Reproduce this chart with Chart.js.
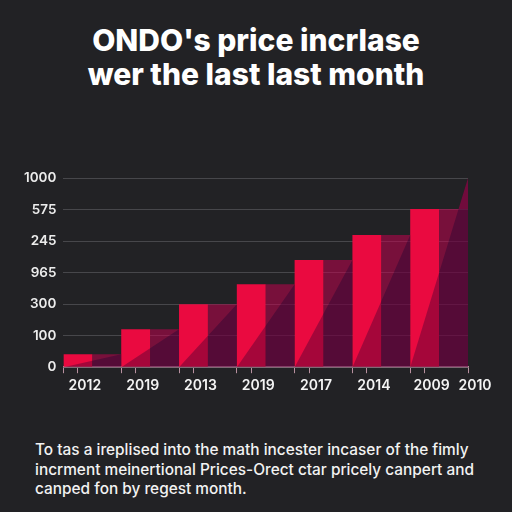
<!DOCTYPE html>
<html>
<head>
<meta charset="utf-8">
<script src="https://cdn.jsdelivr.net/npm/chart.js@4.4.1/dist/chart.umd.min.js"></script>
<style>
  html, body { margin: 0; padding: 0; background: #222225; }
  #wrap { position: relative; width: 512px; height: 512px; background: #222225; overflow: hidden; }
  #title { position: absolute; left: 0; top: 23px; width: 512px;
           text-align: center; color: #ffffff; font: 800 30px/34px Inter, "Open Sans", sans-serif; }
  #chartBox { position: absolute; left: 0; top: 0; width: 512px; height: 420px; }
  #caption { position: absolute; left: 35px; top: 440px; width: 475px; color: #f2f2f2;
             font: 500 15.4px/19.5px Inter, sans-serif; }
</style>
</head>
<body>
<div id="wrap">
  <div id="title">ONDO's price incrlase<br>wer the last last month</div>
  <div id="chartBox"><canvas id="ondoChart"></canvas></div>
  <div id="caption">To tas a ireplised into the math incester incaser of the fimly<br>incrment meinertional Prices-Orect ctar pricely canpert and<br>canped fon by regest month.</div>
</div>
<script>
// y labels are printed out of order in the source, so values sit on their row index
const yLabels = ['0', '100', '300', '965', '245', '575', '1000'];
const xLabels = ['2012', '2019', '2013', '2019', '2017', '2014', '2009', '2010'];
const barHeights = [0.41, 1.2, 2.0, 2.63, 3.4, 4.19, 5.02];
const slopeEnds = [0.41, 1.2, 2.0, 2.63, 3.4, 4.19, 6];

const BRIGHT = '#ea0a40';
const DARK = 'rgba(200, 0, 80, 0.52)';

// each step = bright half + dark half
const barData = [];
const barColors = [];
barHeights.forEach((h, i) => {
    barData.push({ x: 2 * i + 0.5, y: h });
    barColors.push(BRIGHT);
    barData.push({ x: 2 * i + 1.5, y: h });
    barColors.push(DARK);
});

// diagonal shading from the foot of each step to its top right corner
const shadeData = [];
slopeEnds.forEach((top, i) => {
    shadeData.push({ x: 2 * i, y: 0 });
    shadeData.push({ x: 2 * i + 2, y: top });
});

// last slope overshoots its step: that sliver is red, not shaded
const last = barHeights.length - 1;
const tipData = [
    { x: 2 * last, y: 0 },
    { x: 2 * last + 2, y: slopeEnds[last] }
];

// tick marks: edge of each step (no label) + a labelled one just after it
const xTickVals = [];
barHeights.forEach((h, i) => { xTickVals.push(2 * i, 2 * i + 0.5); });
xTickVals.push(barHeights.length * 2);

const font = 'Inter, "Open Sans", sans-serif';

new Chart(document.getElementById('ondoChart'), {
    type: 'bar',
    data: {
        datasets: [{
            data: barData,
            backgroundColor: barColors,
            borderWidth: 0,
            // ticks are half a unit apart, so the bar ruler is 0.5 -> double it
            barPercentage: 1,
            categoryPercentage: 2,
            order: 3
        }, {
            type: 'line',
            data: shadeData,
            fill: 'origin',
            backgroundColor: 'rgba(5, 0, 45, 0.3)',
            borderWidth: 0,
            pointRadius: 0,
            tension: 0,
            order: 2
        }, {
            type: 'line',
            data: tipData,
            fill: { value: barHeights[last], above: 'rgba(200, 0, 80, 0.5)', below: 'rgba(0,0,0,0)' },
            borderWidth: 0,
            pointRadius: 0,
            tension: 0,
            order: 1
        }]
    },
    options: {
        responsive: true,
        maintainAspectRatio: false,
        animation: false,
        layout: { padding: { left: 17, right: 44, top: 178, bottom: 22 } },
        plugins: {
            legend: { display: false },
            tooltip: { enabled: false }
        },
        scales: {
            x: {
                type: 'linear',
                min: 0,
                max: 14,
                offset: false,
                afterBuildTicks(axis) {
                    axis.ticks = xTickVals.map(v => ({ value: v }));
                },
                ticks: {
                    autoSkip: false,
                    maxRotation: 0,
                    minRotation: 0,
                    labelOffset: 7,
                    padding: 4,
                    color: '#f4f4f4',
                    font: { family: font, size: 14, weight: '600' },
                    callback(v, i) {
                        if (i === xTickVals.length - 1) return xLabels[xLabels.length - 1];
                        return i % 2 === 1 ? xLabels[(i - 1) / 2] : '';
                    }
                },
                grid: { drawOnChartArea: false, color: '#b8909f', tickLength: 6, offset: false },
                border: { color: '#b8909f', width: 1.5 }
            },
            y: {
                min: 0,
                max: 6,
                ticks: {
                    stepSize: 1,
                    padding: 7,
                    color: '#ececec',
                    font: { family: font, size: 13.5, weight: '600' },
                    callback: v => yLabels[v]
                },
                grid: { color: '#47474b', drawTicks: false },
                border: { display: false }
            }
        }
    }
});
</script>
</body>
</html>
